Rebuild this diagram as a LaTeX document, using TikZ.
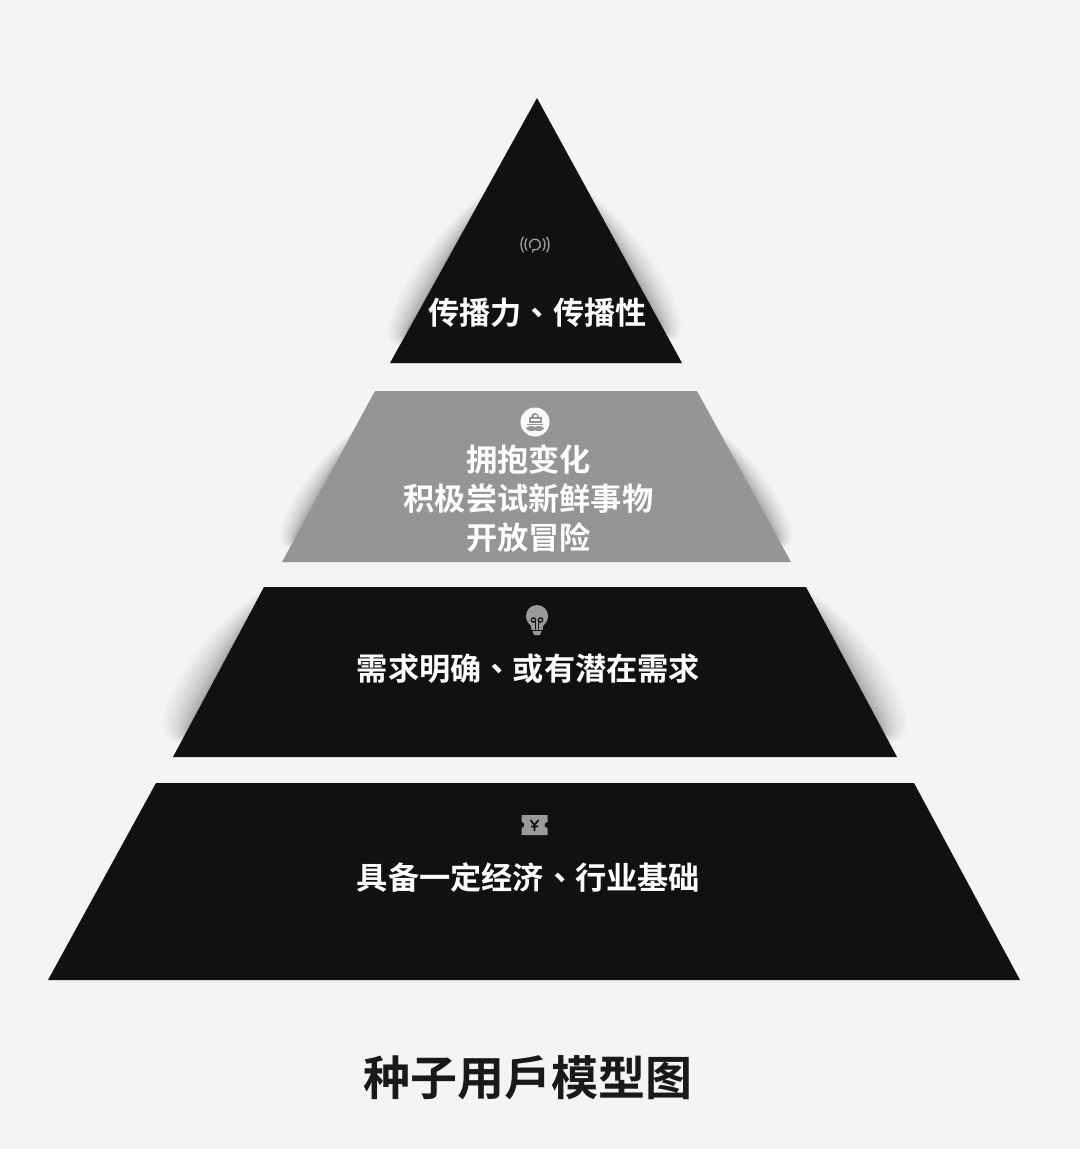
\documentclass[tikz,border=0pt]{standalone}
\usepackage{fontspec}
\setmainfont{Noto Sans CJK SC}[BoldFont={* Bold}]
\newfontfamily\tcfont{Noto Sans CJK TC}[BoldFont={* Bold}]
\usepackage{tikz}
\usetikzlibrary{calc}
\definecolor{fondo}{HTML}{F4F4F4}
\definecolor{nero}{HTML}{111111}
\definecolor{grigio}{HTML}{959595}
\definecolor{icona}{HTML}{9A9A9A}
\tikzset{
strato/.style={fill=nero},
etichetta/.style={text=white,font=\bfseries\fontsize{31.2}{39}\selectfont,align=center,inner sep=0pt},
titolo/.style={text=black!90,font=\bfseries\fontsize{47}{50}\selectfont,inner sep=0pt},
ombra/.style={fill=black,opacity=0.017}}
\newcommand{\virgola}{{\tcfont 、}}
% soft shadow on one slanted side
\newcommand{\ombra}[4]{
  \foreach \i in {1,...,24}{
    \pgfmathsetmacro\w{(\i/24)*(\i/24)*#4*1.1}
    \pgfmathsetmacro\t{0.35*(1-\i/24)}
    \coordinate (ta) at ($(#1)!\t!(#2)$);
    \coordinate (tb) at ($(#2)!0.06+0.3*\t!(#1)$);
    \fill[ombra] (ta) .. controls ($(ta)!0.3!(tb)+(#3*\w,0)$) and ($(tb)+(#3*\w,0)$) .. (tb) -- cycle;
  }
}
\begin{document}
\begin{tikzpicture}[x=1pt,y=-1pt]

\useasboundingbox[fill=fondo] (0,0) rectangle (1080,1149);

      \ombra{486,190}{394,355}{-1}{34}
      \ombra{587,190}{675,350}{1}{34}
      \ombra{354,430}{286,555}{-1}{28}
      \ombra{718,430}{787,555}{1}{28}
      \ombra{262,590}{176,752}{-1}{44}
      \ombra{808,590}{894,752}{1}{44}

      \fill[strato] (537,98) -- (682,363) -- (390,363) -- cycle;
      \fill[strato,fill=grigio] (375,391) -- (697,391) -- (791,562) -- (282,562) -- cycle;
      \fill[strato] (264,587) -- (806,587) -- (897,757) -- (173,757) -- cycle;
      \fill[strato] (156,783) -- (914,783) -- (1020,980) -- (48,980) -- cycle;

      \node[etichetta] (cima) at (537.5,313) {传播力\virgola 传播性};
      \node[etichetta] (secondo) at (528.5,499) {拥抱变化\\积极尝试新鲜事物\\开放冒险};
      \node[etichetta] (terzo) at (528.5,669) {需求明确\virgola 或有潜在需求};
      \node[etichetta] (base) at (528.5,877) {具备一定经济\virgola 行业基础};
      \node[titolo] (nome) at (528,1078) {种子用戶模型图};

      % antenna
      \begin{scope}[shift={(535,244.5)},y=1pt,draw=icona,line width=1.4pt,line cap=round]
        \draw (-110:5.5) arc (-110:215:5.5);
        \draw (-110:5.5) -- (-2.5,-7.5);
        \draw (145:10) arc (145:215:10);
        \draw (35:10) arc (35:-35:10);
        \draw (148:14) arc (148:212:14);
        \draw (32:14) arc (32:-32:14);
      \end{scope}

      % ship
      \begin{scope}[shift={(535,422)},y=1pt]
        \fill[white!95!grigio] (0,0) circle (14.5);
        \fill[grigio] (-4,5) arc (180:0:4) -- cycle;
        \fill[white!95!grigio] (-1.5,5.5) rectangle (1.5,7);
        \fill[grigio] (-6.5,5) rectangle (6.5,-1);
        \fill[white!95!grigio] (-4.5,3) rectangle (4.5,1.2);
        \fill[grigio] (-8,-1.8) rectangle (8,-3.2);
        \fill[grigio] (0,-5) .. controls (-3,-3.4) and (-7,-3.8) .. (-9,-6) .. controls (-7,-10) and (-2,-10) .. (0,-8)
          .. controls (2,-10) and (7,-10) .. (9,-6) .. controls (7,-3.8) and (3,-3.4) .. (0,-5) -- cycle;
      \end{scope}

      % bulb
      \begin{scope}[shift={(537,619)},y=1pt,line cap=round]
        \fill[icona] (-5.5,-11) -- (-6,-7) .. controls (-9,-4) and (-11,-1) .. (-11,3)
          arc (180:0:11) .. controls (11,-1) and (9,-4) .. (6,-7) -- (5.5,-11) -- cycle;
        \fill[icona] (-4.5,-12) -- (4.5,-12) -- (3,-16) -- (-3,-16) -- cycle;
        \draw[nero,line width=1.2pt] (-1.5,-10) -- (-1.5,-1) (1.5,-10) -- (1.5,-1);
        \draw[nero,line width=1.2pt] (-3.5,-1) circle (2.2) (3.5,-1) circle (2.2);
        \draw[nero,line width=1.4pt] (-6,-11.5) -- (6,-11.5);
      \end{scope}

      % ticket
      \begin{scope}[shift={(534.5,825)},y=1pt]
        \fill[icona] (-13,10) -- (13,10) -- (13,3) arc (90:270:3) -- (13,-10) -- (-13,-10) -- (-13,-3) arc (-90:90:3) -- cycle;
        \draw[nero,line width=1.8pt] (-4,5) -- (0,0) -- (4,5) (0,0) -- (0,-6) (-3.5,-1.5) -- (3.5,-1.5);
      \end{scope}
\end{tikzpicture}
\end{document}
